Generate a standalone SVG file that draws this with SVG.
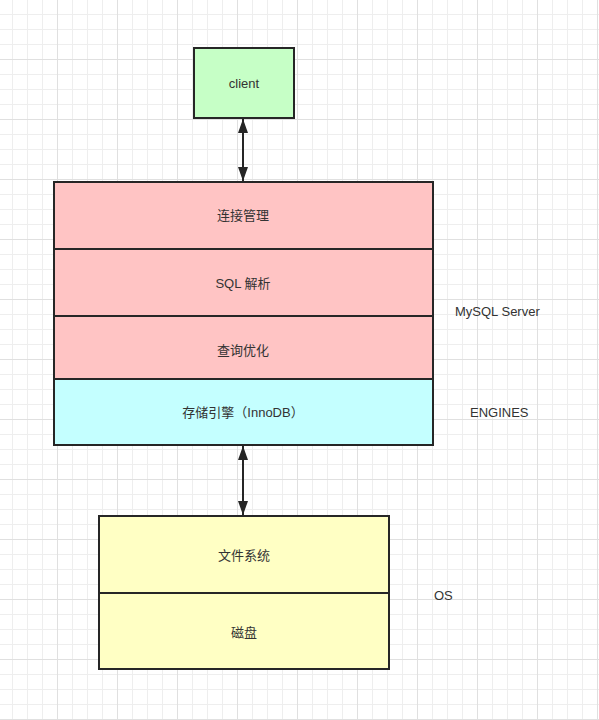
<svg xmlns="http://www.w3.org/2000/svg" width="599" height="720" viewBox="0 0 599 720">
<defs>
<pattern id="minor" width="15" height="15" patternUnits="userSpaceOnUse" x="12" y="14">
<path d="M0.5 0V15M0 0.5H15" fill="none" stroke="#eeeeee" stroke-width="1"/>
</pattern>
<pattern id="major" width="60" height="60" patternUnits="userSpaceOnUse" x="57" y="59">
<path d="M0.5 0V60M0 0.5H60" fill="none" stroke="#e0e0e0" stroke-width="1"/>
</pattern>
<marker id="ah" viewBox="0 0 14 10" refX="14" refY="5" markerWidth="14" markerHeight="10" orient="auto-start-reverse" markerUnits="userSpaceOnUse">
<path d="M0 0L14 5L0 10Z" fill="#262626"/>
</marker>
<style>
.box{stroke:#262626;stroke-width:2}
.t{font-family:"Liberation Sans","Noto Sans CJK SC",sans-serif;font-size:13px;fill:#333333;text-anchor:middle;dominant-baseline:central}
.l{font-family:"Liberation Sans","Noto Sans CJK SC",sans-serif;font-size:13px;fill:#333333;dominant-baseline:central}
.c{stroke:#262626;stroke-width:2;fill:none}
</style>
</defs>
<rect width="599" height="720" fill="#ffffff"/>
<rect width="599" height="720" fill="url(#minor)"/>
<rect width="599" height="720" fill="url(#major)"/>
<g id="connectors">
<line class="c" x1="243" y1="119" x2="243" y2="181" marker-start="url(#ah)" marker-end="url(#ah)"/>
<line class="c" x1="243" y1="446" x2="243" y2="515" marker-start="url(#ah)" marker-end="url(#ah)"/>
</g>
<g id="client">
<rect class="box" x="194" y="48" width="100" height="70" fill="#c6ffc6"/>
<text class="t" x="244" y="83">client</text>
</g>
<g id="mysql-server">
<rect class="box" x="54" y="182" width="379" height="67" fill="#ffc4c4"/>
<text class="t" x="243" y="215">连接管理</text>
<rect class="box" x="54" y="249" width="379" height="67" fill="#ffc4c4"/>
<text class="t" x="243" y="283">SQL 解析</text>
<rect class="box" x="54" y="316" width="379" height="63" fill="#ffc4c4"/>
<text class="t" x="243" y="350">查询优化</text>
</g>
<g id="engines">
<rect class="box" x="54" y="379" width="379" height="66" fill="#c4ffff"/>
<text class="t" x="243" y="412">存储引擎（InnoDB）</text>
</g>
<g id="os">
<rect class="box" x="99" y="516" width="290" height="77" fill="#ffffc4"/>
<text class="t" x="244" y="555">文件系统</text>
<rect class="box" x="99" y="593" width="290" height="76" fill="#ffffc4"/>
<text class="t" x="244" y="632">磁盘</text>
</g>
<g id="labels">
<text class="l" x="455" y="311">MySQL Server</text>
<text class="l" x="470" y="412">ENGINES</text>
<text class="l" x="434" y="595">OS</text>
</g>
</svg>
